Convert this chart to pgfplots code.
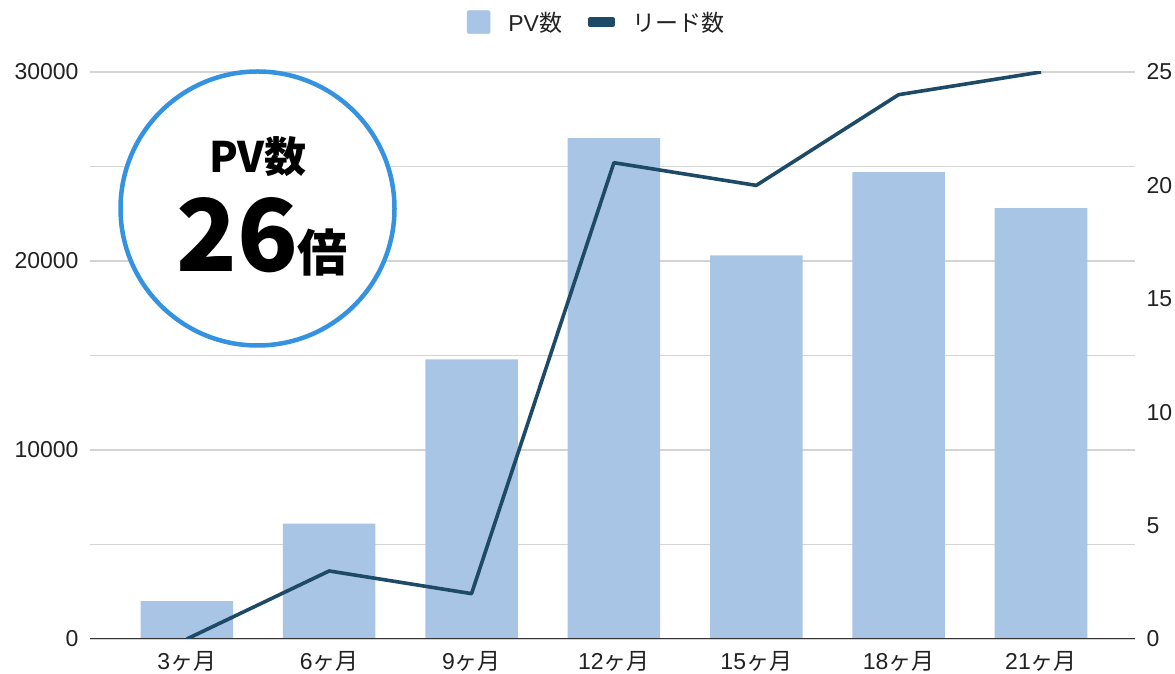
\documentclass[border=0pt]{standalone}
\usepackage{fontspec}
\setmainfont{Liberation Sans}
\newfontfamily\cjk{Noto Sans CJK JP}
\usepackage{pgfplots}
\pgfplotsset{compat=1.18}

\definecolor{pvbar}{HTML}{A8C5E6}
\definecolor{leadline}{HTML}{1D4A67}
\definecolor{ringblue}{HTML}{3592E0}
\definecolor{gridgray}{HTML}{D4D4D4}
\definecolor{zeroline}{HTML}{333333}
\definecolor{txt}{HTML}{222222}

\pgfplotsset{
  base/.style={
    scale only axis, width=1045pt, height=567pt,
    at={(0pt,0pt)}, anchor=south west,
    xmin=-0.68, xmax=6.66, ymin=0,
    axis line style={draw=none},
    major tick length=0pt, minor tick length=0pt,
    tick label style={font=\fontsize{23}{26}\selectfont, text=txt},
    /pgf/number format/assume math mode=true,
    /pgf/number format/1000 sep={},
    scaled y ticks=false,
  },
}

\begin{document}
\begin{tikzpicture}[x=1pt,y=1pt]
\useasboundingbox (-90,-35) rectangle (1085,639);

% PV (left axis)
\begin{axis}[base,
  ymax=30000,
  ytick={0,10000,20000,30000},
  minor ytick={5000,15000,25000},
  ymajorgrids, yminorgrids,
  major grid style={gridgray, line width=1.2pt},
  minor grid style={gridgray, line width=1.2pt},
  yticklabel style={xshift=-8pt},
  xtick={0,...,6},
  xticklabels={3{\cjk ヶ月},6{\cjk ヶ月},9{\cjk ヶ月},12{\cjk ヶ月},15{\cjk ヶ月},18{\cjk ヶ月},21{\cjk ヶ月}},
  xticklabel style={yshift=-9pt},
]
\addplot[ybar, bar width=0.65, fill=pvbar, draw=none] coordinates {
  (0,2000) (1,6100) (2,14800) (3,26500) (4,20300) (5,24700) (6,22800)
};
\draw[zeroline, line width=1.6pt] (rel axis cs:0,0) -- (rel axis cs:1,0);
\end{axis}

% leads (right axis)
\begin{axis}[base,
  ymax=25,
  ytick={0,5,10,15,20,25},
  yticklabel pos=right,
  yticklabel style={xshift=8pt},
  xtick=\empty,
  legend columns=2,
  legend style={at={(0.485,1.088)}, anchor=center, draw=none, fill=none,
    font=\fontsize{23}{26}\selectfont, text=txt,
    /tikz/every odd column/.append style={column sep=16pt},
    /tikz/every even column/.append style={column sep=24pt}},
]
\addlegendimage{legend image code/.code={\fill[pvbar, rounded corners=1.5pt] (0pt,-11.5pt) rectangle (23pt,11.5pt);}}
\addlegendentry{PV{\cjk 数}}
\addplot[leadline, line width=3.6pt, line join=round,
  legend image code/.code={\fill[leadline] (0pt,-2.8pt) rectangle (23pt,2.8pt);}]
  coordinates {(0,0) (1,3) (2,2) (3,21) (4,20) (5,24) (6,25)};
\addlegendentry{\cjk リード数}
\end{axis}

% badge
\draw[ringblue, line width=4.5pt, fill=white] (167.5,430.5) circle (137);
\node[font=\cjk\bfseries\fontsize{42}{44}\selectfont, text=black] at (168,482) {PV数};
\node[anchor=base, inner sep=0pt, text=black] at (172,367)
  {\cjk\bfseries\fontsize{100}{106}\selectfont 26\fontsize{50}{54}\selectfont 倍};
\end{tikzpicture}
\end{document}
